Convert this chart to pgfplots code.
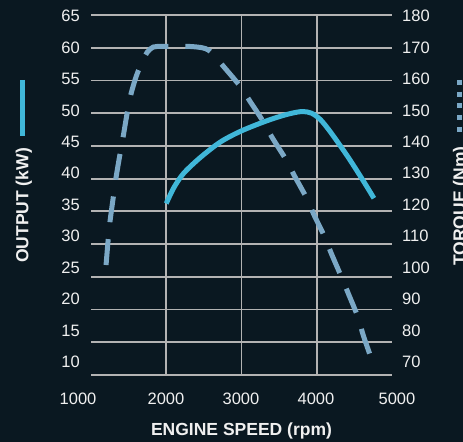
\documentclass[border=0pt]{standalone}
\usepackage{pgfplots}
\pgfplotsset{compat=1.18}
\usepackage{fontspec}
\setmainfont{Liberation Sans}
\definecolor{bg}{RGB}{10,24,33}
\definecolor{cyanc}{RGB}{64,183,217}
\definecolor{dashc}{RGB}{123,168,198}
\definecolor{gridc}{RGB}{179,179,179}
\definecolor{textc}{RGB}{240,240,240}
\begin{document}
\begin{tikzpicture}
\useasboundingbox (0,0) rectangle (463bp,442bp);
\fill[bg] (0,0) rectangle (463bp,442bp);
% grid + torque
\begin{axis}[at={(91bp,67bp)}, anchor=south west, scale only axis,
  width=301bp, height=360bp,
  xmin=1000, xmax=5000, ymin=70, ymax=180,
  axis line style={draw=none}, major tick length=0pt,
  xtick={2000,3000,4000}, ytick={70,80,...,180},
  xticklabels={}, yticklabels={},
  xmajorgrids, ymajorgrids,
  grid style={draw=gridc, line width=1.8bp},
  clip=false]
\addplot[dashc, line width=5bp, smooth, tension=0.45, dash pattern=on 26bp off 17bp] coordinates {
(1200,103.6) (1225,110.5) (1253,117) (1297,124.5) (1330,130) (1387,137.7)
(1431,143.3) (1484,150.5) (1533,156) (1590,160.5) (1644,163.8) (1743,168.5)
(1827,170.2) (1950,170.4) (2300,170.4) (2476,170) (2560,169.3) (2640,167.5)
(2764,164.2) (2987,158.1) (3111,153.7) (3276,147.9) (3409,142.5) (3600,135.5)
(3698,131.1) (3867,124) (3964,118.9) (4107,112.1) (4196,107) (4333,99.7)
(4423,94.7) (4551,87.5) (4617,82.2) (4729,74.8)};
\end{axis}
% output
\begin{axis}[at={(91bp,67bp)}, anchor=south west, scale only axis,
  width=301bp, height=360bp,
  xmin=1000, xmax=5000, ymin=10, ymax=65,
  hide axis, clip=false]
\addplot[cyanc, line width=5bp, smooth, tension=0.5] coordinates {
(2000,36.2) (2100,38.6) (2230,40.8) (2450,43.2) (2720,45.6) (3000,47.3)
(3340,48.85) (3600,49.8) (3800,50.25) (3930,50.0) (4050,49.0) (4190,47.0)
(4410,43.4) (4600,40.0) (4760,37.0)};
\end{axis}
% left tick labels
\begin{axis}[at={(91bp,80bp)}, anchor=south west, scale only axis,
  width=301bp, height=346bp,
  xmin=1000, xmax=5000, ymin=10, ymax=65,
  axis line style={draw=none}, major tick length=0pt,
  xtick=\empty, ytick={10,15,...,65},
  /pgf/number format/assume math mode=true,
  yticklabel style={anchor=east, inner sep=0pt, xshift=-11bp, text=textc,
    font=\fontsize{16.5bp}{18bp}\selectfont}]
\end{axis}
% right tick labels
\begin{axis}[at={(91bp,80bp)}, anchor=south west, scale only axis,
  width=301bp, height=346bp,
  xmin=1000, xmax=5000, ymin=70, ymax=180,
  axis line style={draw=none}, major tick length=0pt,
  xtick=\empty, ytick={70,80,...,180}, yticklabel pos=right,
  /pgf/number format/assume math mode=true,
  yticklabel style={anchor=west, inner sep=0pt, xshift=10bp, text=textc,
    font=\fontsize{16.5bp}{18bp}\selectfont}]
\end{axis}
% x tick labels
\begin{axis}[at={(16bp,67bp)}, anchor=south west, scale only axis,
  width=450bp, height=20bp,
  xmin=0, xmax=6000, ymin=0, ymax=1,
  axis line style={draw=none}, major tick length=0pt,
  ytick=\empty, xtick={827,2000,3000,4000,5080},
  xticklabels={1000,2000,3000,4000,5000},
  xticklabel style={anchor=north, inner sep=0pt, yshift=-18bp, text=textc,
    font=\fontsize{16.5bp}{18bp}\selectfont}]
\end{axis}
% axis titles and legend swatches
\draw[cyanc, line width=5bp] (22.5bp,362bp) -- (22.5bp,306bp);
\node[rotate=90, anchor=base, inner sep=0pt, text=textc,
  font=\bfseries\fontsize{17.5bp}{20bp}\selectfont] at (28.3bp,236.5bp) {OUTPUT (kW)};
\draw[dashc, line width=5bp, dash pattern=on 5bp off 6.7bp] (459.5bp,362bp) -- (459.5bp,309bp);
\node[rotate=90, anchor=base, inner sep=0pt, text=textc,
  font=\bfseries\fontsize{17.5bp}{20bp}\selectfont] at (465.6bp,236bp) {TORQUE (Nm)};
\node[anchor=base, inner sep=0pt, text=textc,
  font=\bfseries\fontsize{17.5bp}{20bp}\selectfont] at (241.5bp,7bp) {ENGINE SPEED (rpm)};
\end{tikzpicture}
\end{document}
